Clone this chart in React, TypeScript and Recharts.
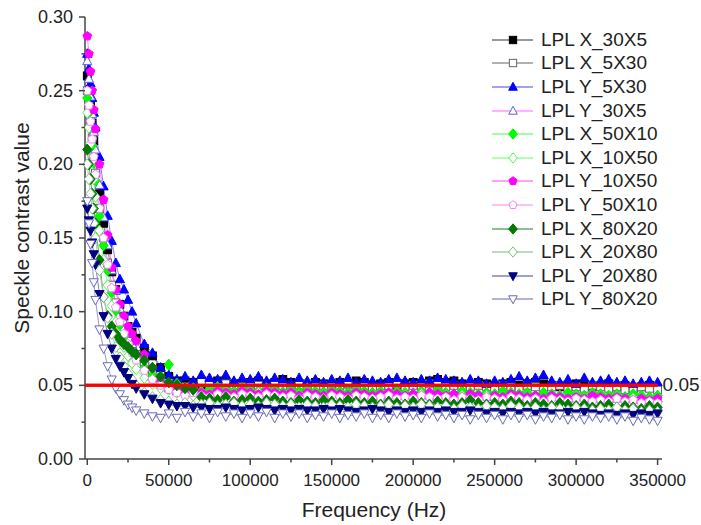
import React from 'react'
import { LineChart, Line, XAxis, YAxis, ReferenceLine, Label } from 'recharts'

// frequency (Hz) of every sample
const frequencies = [
  0, 1000, 2000, 3000, 4000, 5000, 7500, 10000, 12500, 15000, 17500, 20000, 22500, 25000, 27500, 30000, 35000, 40000, 45000,
  50000, 55000, 60000, 65000, 70000, 75000, 80000, 85000, 90000, 95000,
  100000, 105000, 110000, 115000, 120000, 125000, 130000, 135000, 140000, 145000,
  150000, 155000, 160000, 165000, 170000, 175000, 180000, 185000, 190000, 195000,
  200000, 205000, 210000, 215000, 220000, 225000, 230000, 235000, 240000, 245000,
  250000, 255000, 260000, 265000, 270000, 275000, 280000, 285000, 290000, 295000,
  300000, 305000, 310000, 315000, 320000, 325000, 330000, 335000, 340000, 345000, 350000,
]

const lplX_30x5 = [
  0.26, 0.25, 0.24, 0.228, 0.216, 0.204, 0.18, 0.16, 0.142, 0.127, 0.115, 0.105, 0.097, 0.09, 0.086, 0.082, 0.075, 0.07, 0.062,
  0.056, 0.053, 0.053, 0.052, 0.050, 0.051, 0.053, 0.052, 0.051, 0.050,
  0.052, 0.053, 0.051, 0.052, 0.054, 0.052, 0.051, 0.050, 0.052, 0.051,
  0.050, 0.052, 0.051, 0.053, 0.052, 0.050, 0.051, 0.052, 0.050, 0.051,
  0.052, 0.051, 0.053, 0.054, 0.052, 0.053, 0.051, 0.050, 0.052, 0.051,
  0.050, 0.051, 0.052, 0.050, 0.051, 0.052, 0.051, 0.050, 0.049, 0.050,
  0.051, 0.050, 0.049, 0.050, 0.051, 0.049, 0.050, 0.048, 0.049, 0.050, 0.048,
]
const lplX_5x30 = [
  0.25, 0.24, 0.23, 0.218, 0.206, 0.194, 0.17, 0.15, 0.133, 0.118, 0.106, 0.096, 0.088, 0.081, 0.076, 0.071, 0.064, 0.058, 0.054,
  0.052, 0.051, 0.049, 0.050, 0.052, 0.050, 0.049, 0.051, 0.050, 0.049,
  0.051, 0.050, 0.049, 0.051, 0.050, 0.048, 0.050, 0.051, 0.049, 0.050,
  0.049, 0.050, 0.051, 0.049, 0.050, 0.048, 0.049, 0.050, 0.051, 0.049,
  0.050, 0.049, 0.051, 0.050, 0.049, 0.050, 0.048, 0.049, 0.050, 0.049,
  0.048, 0.050, 0.049, 0.048, 0.050, 0.049, 0.048, 0.049, 0.050, 0.048,
  0.049, 0.048, 0.050, 0.049, 0.048, 0.049, 0.047, 0.048, 0.049, 0.048, 0.047,
]
const lplY_5x30 = [
  0.275, 0.265, 0.255, 0.245, 0.235, 0.225, 0.205, 0.185, 0.165, 0.148, 0.133, 0.122, 0.115, 0.108, 0.1, 0.092, 0.078, 0.072, 0.062,
  0.057, 0.054, 0.056, 0.053, 0.057, 0.055, 0.054, 0.057, 0.053, 0.055,
  0.054, 0.056, 0.053, 0.055, 0.054, 0.052, 0.055, 0.053, 0.054, 0.052,
  0.054, 0.053, 0.055, 0.052, 0.054, 0.053, 0.052, 0.054, 0.055, 0.053,
  0.052, 0.054, 0.053, 0.055, 0.054, 0.053, 0.052, 0.054, 0.053, 0.051,
  0.053, 0.052, 0.054, 0.056, 0.053, 0.055, 0.057, 0.053, 0.052, 0.054,
  0.051, 0.055, 0.052, 0.053, 0.054, 0.052, 0.053, 0.051, 0.052, 0.053, 0.052,
]
const lplY_30x5 = [
  0.27, 0.258, 0.246, 0.234, 0.222, 0.21, 0.186, 0.164, 0.145, 0.128, 0.114, 0.102, 0.093, 0.085, 0.078, 0.072, 0.063, 0.056, 0.051,
  0.048, 0.046, 0.048, 0.046, 0.045, 0.047, 0.046, 0.045, 0.047, 0.046,
  0.045, 0.047, 0.046, 0.045, 0.046, 0.044, 0.046, 0.045, 0.044, 0.046,
  0.045, 0.044, 0.046, 0.045, 0.044, 0.045, 0.043, 0.045, 0.044, 0.043,
  0.045, 0.044, 0.043, 0.045, 0.044, 0.043, 0.044, 0.042, 0.044, 0.043,
  0.042, 0.044, 0.043, 0.042, 0.043, 0.042, 0.044, 0.042, 0.043, 0.041,
  0.043, 0.042, 0.041, 0.043, 0.042, 0.041, 0.042, 0.041, 0.040, 0.042, 0.041,
]
const lplX_50x10 = [
  0.245, 0.235, 0.225, 0.213, 0.201, 0.189, 0.165, 0.145, 0.128, 0.113, 0.101, 0.091, 0.083, 0.077, 0.072, 0.068, 0.062, 0.057, 0.054,
  0.064, 0.051, 0.048, 0.048, 0.046, 0.047, 0.049, 0.047, 0.046, 0.048,
  0.047, 0.046, 0.048, 0.047, 0.045, 0.047, 0.046, 0.048, 0.046, 0.045,
  0.047, 0.046, 0.045, 0.047, 0.046, 0.045, 0.046, 0.044, 0.046, 0.045,
  0.044, 0.046, 0.045, 0.047, 0.045, 0.044, 0.046, 0.045, 0.044, 0.045,
  0.044, 0.046, 0.045, 0.044, 0.045, 0.043, 0.045, 0.044, 0.043, 0.045,
  0.044, 0.043, 0.045, 0.044, 0.043, 0.044, 0.042, 0.044, 0.043, 0.042, 0.043,
]
const lplX_10x50 = [
  0.235, 0.225, 0.214, 0.202, 0.19, 0.178, 0.155, 0.135, 0.118, 0.104, 0.093, 0.084, 0.076, 0.07, 0.065, 0.061, 0.055, 0.051, 0.048,
  0.047, 0.045, 0.045, 0.043, 0.045, 0.044, 0.043, 0.045, 0.044, 0.043,
  0.044, 0.045, 0.043, 0.044, 0.042, 0.044, 0.043, 0.045, 0.043, 0.042,
  0.044, 0.043, 0.042, 0.044, 0.043, 0.042, 0.043, 0.044, 0.042, 0.043,
  0.042, 0.044, 0.043, 0.042, 0.043, 0.041, 0.043, 0.042, 0.041, 0.043,
  0.042, 0.041, 0.043, 0.042, 0.041, 0.042, 0.040, 0.042, 0.041, 0.040,
  0.042, 0.041, 0.040, 0.041, 0.040, 0.042, 0.040, 0.041, 0.039, 0.040, 0.039,
]
const lplY_10x50 = [
  0.287, 0.275, 0.263, 0.25, 0.237, 0.224, 0.2, 0.176, 0.152, 0.13, 0.115, 0.105, 0.097, 0.09, 0.085, 0.08, 0.071, 0.062, 0.055,
  0.050, 0.047, 0.046, 0.047, 0.045, 0.044, 0.046, 0.045, 0.044, 0.046,
  0.045, 0.044, 0.046, 0.045, 0.044, 0.045, 0.043, 0.045, 0.044, 0.043,
  0.045, 0.044, 0.043, 0.045, 0.044, 0.043, 0.044, 0.045, 0.044, 0.043,
  0.044, 0.043, 0.045, 0.044, 0.043, 0.044, 0.042, 0.044, 0.043, 0.042,
  0.043, 0.042, 0.044, 0.043, 0.042, 0.043, 0.041, 0.043, 0.042, 0.041,
  0.042, 0.041, 0.043, 0.042, 0.041, 0.042, 0.041, 0.040, 0.041, 0.040, 0.041,
]
const lplY_50x10 = [
  0.25, 0.24, 0.229, 0.217, 0.205, 0.193, 0.17, 0.15, 0.132, 0.116, 0.103, 0.093, 0.085, 0.078, 0.072, 0.067, 0.06, 0.054, 0.05,
  0.047, 0.045, 0.043, 0.045, 0.043, 0.042, 0.044, 0.043, 0.042, 0.044,
  0.043, 0.042, 0.044, 0.043, 0.042, 0.043, 0.041, 0.043, 0.042, 0.041,
  0.043, 0.042, 0.041, 0.043, 0.042, 0.041, 0.042, 0.043, 0.041, 0.042,
  0.041, 0.043, 0.042, 0.041, 0.042, 0.040, 0.042, 0.041, 0.040, 0.042,
  0.041, 0.040, 0.042, 0.041, 0.040, 0.041, 0.039, 0.041, 0.040, 0.039,
  0.041, 0.040, 0.039, 0.040, 0.039, 0.041, 0.039, 0.040, 0.038, 0.039, 0.038,
]
const lplX_80x20 = [
  0.21, 0.2, 0.19, 0.18, 0.17, 0.16, 0.135, 0.11, 0.097, 0.09, 0.085, 0.081, 0.078, 0.076, 0.073, 0.071, 0.067, 0.062, 0.056,
  0.052, 0.050, 0.048, 0.047, 0.042, 0.041, 0.040, 0.042, 0.039, 0.040,
  0.041, 0.039, 0.040, 0.041, 0.039, 0.038, 0.040, 0.039, 0.038, 0.040,
  0.039, 0.038, 0.040, 0.039, 0.038, 0.039, 0.037, 0.039, 0.038, 0.037,
  0.039, 0.038, 0.037, 0.039, 0.038, 0.037, 0.038, 0.040, 0.038, 0.037,
  0.038, 0.037, 0.039, 0.038, 0.036, 0.038, 0.037, 0.036, 0.038, 0.037,
  0.036, 0.037, 0.035, 0.036, 0.037, 0.035, 0.036, 0.035, 0.034, 0.036, 0.035,
]
const lplX_20x80 = [
  0.2, 0.19, 0.18, 0.17, 0.16, 0.15, 0.128, 0.11, 0.096, 0.085, 0.076, 0.069, 0.063, 0.058, 0.054, 0.05, 0.045, 0.042, 0.04,
  0.039, 0.037, 0.038, 0.036, 0.037, 0.038, 0.036, 0.037, 0.038, 0.036,
  0.037, 0.036, 0.038, 0.037, 0.036, 0.037, 0.035, 0.037, 0.036, 0.035,
  0.037, 0.036, 0.035, 0.037, 0.036, 0.035, 0.036, 0.037, 0.035, 0.036,
  0.035, 0.037, 0.036, 0.035, 0.036, 0.034, 0.036, 0.035, 0.034, 0.036,
  0.035, 0.034, 0.036, 0.035, 0.034, 0.035, 0.033, 0.035, 0.034, 0.033,
  0.035, 0.034, 0.033, 0.034, 0.033, 0.035, 0.033, 0.034, 0.032, 0.033, 0.032,
]
const lplY_20x80 = [
  0.17, 0.162, 0.155, 0.147, 0.139, 0.132, 0.112, 0.097, 0.085, 0.075, 0.068, 0.063, 0.059, 0.055, 0.051, 0.048, 0.044, 0.041, 0.038,
  0.037, 0.036, 0.036, 0.035, 0.035, 0.034, 0.034, 0.035, 0.034, 0.033,
  0.034, 0.035, 0.034, 0.033, 0.034, 0.033, 0.034, 0.033, 0.033, 0.034,
  0.033, 0.034, 0.033, 0.032, 0.033, 0.034, 0.033, 0.032, 0.033, 0.032,
  0.033, 0.032, 0.033, 0.032, 0.033, 0.032, 0.032, 0.033, 0.032, 0.031,
  0.032, 0.031, 0.032, 0.031, 0.032, 0.031, 0.032, 0.031, 0.031, 0.032,
  0.031, 0.032, 0.031, 0.030, 0.031, 0.030, 0.031, 0.030, 0.031, 0.030, 0.031,
]
const lplY_80x20 = [
  0.175, 0.16, 0.146, 0.133, 0.12, 0.108, 0.088, 0.075, 0.063, 0.054, 0.048, 0.044, 0.04, 0.037, 0.035, 0.033, 0.031, 0.029, 0.028,
  0.031, 0.028, 0.032, 0.029, 0.031, 0.028, 0.032, 0.029, 0.031, 0.028,
  0.031, 0.029, 0.032, 0.028, 0.031, 0.029, 0.031, 0.028, 0.030, 0.029,
  0.031, 0.028, 0.030, 0.029, 0.031, 0.028, 0.030, 0.028, 0.031, 0.029,
  0.030, 0.028, 0.031, 0.029, 0.030, 0.028, 0.030, 0.027, 0.030, 0.028,
  0.030, 0.027, 0.030, 0.028, 0.030, 0.027, 0.029, 0.028, 0.030, 0.027,
  0.029, 0.027, 0.029, 0.028, 0.029, 0.027, 0.029, 0.026, 0.028, 0.027, 0.026,
]

const xTicks = [0, 25000, 50000, 75000, 100000, 125000, 150000, 175000, 200000, 225000, 250000, 275000, 300000, 325000, 350000]
const yTicks = [0, 0.025, 0.05, 0.075, 0.1, 0.125, 0.15, 0.175, 0.2, 0.225, 0.25, 0.275, 0.3]
const xDomain = [-1400, 352700]
const threshold = 0.05
const thresholdLabel = '0.05'

const series = [
  { key: 's1', name: 'LPL X_30X5', values: lplX_30x5, shape: 'square', fill: '#000000', stroke: '#000000', line: '#777777' },
  { key: 's2', name: 'LPL X_5X30', values: lplX_5x30, shape: 'square', fill: '#ffffff', stroke: '#666666', line: '#999999' },
  { key: 's3', name: 'LPL Y_5X30', values: lplY_5x30, shape: 'triUp', fill: '#0000ff', stroke: '#0000ff', line: '#8080ff' },
  { key: 's4', name: 'LPL Y_30X5', values: lplY_30x5, shape: 'triUp', fill: '#ffffff', stroke: '#5c5cf0', line: '#ff99ff' },
  { key: 's5', name: 'LPL X_50X10', values: lplX_50x10, shape: 'diamond', fill: '#00ff00', stroke: '#00ee00', line: '#80ff80' },
  { key: 's6', name: 'LPL X_10X50', values: lplX_10x50, shape: 'diamond', fill: '#ffffff', stroke: '#55ee55', line: '#99ff99' },
  { key: 's7', name: 'LPL Y_10X50', values: lplY_10x50, shape: 'pentagon', fill: '#ff00ff', stroke: '#ff00ff', line: '#ff80ff' },
  { key: 's8', name: 'LPL Y_50X10', values: lplY_50x10, shape: 'pentagon', fill: '#ffffff', stroke: '#ff80ff', line: '#ffaaff' },
  { key: 's9', name: 'LPL X_80X20', values: lplX_80x20, shape: 'diamond', fill: '#007a00', stroke: '#007a00', line: '#66aa66' },
  { key: 's10', name: 'LPL X_20X80', values: lplX_20x80, shape: 'diamond', fill: '#ffffff', stroke: '#80c080', line: '#aaccaa' },
  { key: 's11', name: 'LPL Y_20X80', values: lplY_20x80, shape: 'triDown', fill: '#000080', stroke: '#000080', line: '#8080c0' },
  { key: 's12', name: 'LPL Y_80X20', values: lplY_80x20, shape: 'triDown', fill: '#ffffff', stroke: '#6a6ab8', line: '#9999cc' },
]

const data = frequencies.map((f, i) => {
  const row: any = { f }
  series.forEach((s) => {
    row[s.key] = s.values[i]
  })
  return row
})

const FONT = '"Liberation Sans", Arial, sans-serif'
const AXIS = '#444'

function Marker({ shape, x, y, r, fill, stroke }: any) {
  const common = { fill, stroke, strokeWidth: 1 }
  if (shape === 'square') {
    return <rect x={x - r * 0.85} y={y - r * 0.85} width={r * 1.7} height={r * 1.7} {...common} />
  }
  if (shape === 'triUp') {
    return <path d={`M${x},${y - r * 1.1}L${x + r},${y + r * 0.75}L${x - r},${y + r * 0.75}Z`} {...common} />
  }
  if (shape === 'triDown') {
    return <path d={`M${x},${y + r * 1.1}L${x + r},${y - r * 0.75}L${x - r},${y - r * 0.75}Z`} {...common} />
  }
  if (shape === 'diamond') {
    return <path d={`M${x},${y - r * 1.2}L${x + r},${y}L${x},${y + r * 1.2}L${x - r},${y}Z`} {...common} />
  }
  const pts = [0, 1, 2, 3, 4]
    .map((k) => {
      const a = ((-90 + 72 * k) * Math.PI) / 180
      return `${x + r * Math.cos(a)},${y + r * Math.sin(a)}`
    })
    .join(' ')
  return <polygon points={pts} {...common} />
}

const makeDot = (s: any) => (props: any) => {
  const { cx, cy, index } = props
  if (cx == null || cy == null) return <g key={`${s.key}-${index}`} />
  return <Marker key={`${s.key}-${index}`} shape={s.shape} x={cx} y={cy} r={4.6} fill={s.fill} stroke={s.stroke} />
}

const XTick = ({ x, y, payload }: any) => {
  const major = payload.value % 50000 === 0
  return (
    <g>
      <line x1={x} x2={x} y1={y} y2={y + (major ? 6 : 3.5)} stroke={AXIS} strokeWidth={1.5} />
      {major && (
        <text x={x} y={y + 27} textAnchor="middle" fontSize={17} fill="#222" fontFamily={FONT}>
          {payload.value}
        </text>
      )}
    </g>
  )
}

const YTick = ({ x, y, payload }: any) => {
  const major = Math.round(payload.value * 1000) % 50 === 0
  return (
    <g>
      <line x1={x} x2={x - (major ? 6 : 3.5)} y1={y} y2={y} stroke={AXIS} strokeWidth={1.5} />
      {major && (
        <text x={x - 12} y={y + 6} textAnchor="end" fontSize={18} fill="#222" fontFamily={FONT}>
          {payload.value.toFixed(2)}
        </text>
      )}
    </g>
  )
}

// the red limit is painted from the label layer, which lies above the markers
const ThresholdLabel = ({ viewBox }: any) => {
  if (!viewBox) return null
  const { x, y, width } = viewBox
  return (
    <g>
      <line x1={x} x2={x + width} y1={y} y2={y} stroke="#ff0000" strokeWidth={3} />
      <text x={x + width + 5} y={y + 6} fontSize={19} fill="#222" fontFamily={FONT}>
        {thresholdLabel}
      </text>
    </g>
  )
}

function LegendBox() {
  return (
    <div style={{ position: 'absolute', left: 492, top: 28, fontFamily: FONT }}>
      {series.map((s) => (
        <div key={s.key} style={{ height: 23.6, display: 'flex', alignItems: 'center' }}>
          <svg width={44} height={20} style={{ display: 'block' }}>
            <line x1={0} x2={41} y1={10} y2={10} stroke={s.line} strokeWidth={1.5} />
            <Marker shape={s.shape} x={21} y={10} r={4.3} fill={s.fill} stroke={s.stroke} />
          </svg>
          <span style={{ fontSize: 19, color: '#222', marginLeft: 5, whiteSpace: 'nowrap' }}>{s.name}</span>
        </div>
      ))}
    </div>
  )
}

export default function App() {
  return (
    <div style={{ position: 'absolute', left: 0, top: 0, width: 701, height: 525, background: '#fff' }}>
      <LineChart width={701} height={525} data={data} margin={{ top: 17, right: 39, bottom: 0, left: 0 }}>
        <XAxis
          dataKey="f"
          type="number"
          domain={xDomain}
          ticks={xTicks}
          interval={0}
          height={66}
          tickSize={0}
          tickMargin={0}
          tickLine={false}
          tick={<XTick />}
          axisLine={{ stroke: AXIS, strokeWidth: 1.5 }}
          label={{
            content: () => (
              <text x={374} y={517} textAnchor="middle" fontSize={21} fill="#222" fontFamily={FONT}>
                Frequency (Hz)
              </text>
            ),
          }}
        />
        <YAxis
          type="number"
          domain={[0, 0.3]}
          ticks={yTicks}
          interval={0}
          width={85}
          tickSize={0}
          tickMargin={0}
          tickLine={false}
          tick={<YTick />}
          axisLine={{ stroke: AXIS, strokeWidth: 1.5 }}
          label={{
            content: () => (
              <text x={29} y={228} textAnchor="middle" fontSize={21} fill="#222" fontFamily={FONT} transform="rotate(-90 29 228)">
                Speckle contrast value
              </text>
            ),
          }}
        />
        {series.map((s) => (
          <Line
            key={s.key}
            type="linear"
            dataKey={s.key}
            name={s.name}
            stroke={s.line}
            strokeWidth={1}
            dot={makeDot(s)}
            activeDot={false}
            isAnimationActive={false}
          />
        ))}
        <ReferenceLine
          segment={[
            { x: xDomain[0], y: threshold },
            { x: xTicks[xTicks.length - 1], y: threshold },
          ]}
          stroke="#ff0000"
          strokeWidth={3}
          zIndex={2000}
        >
          <Label content={<ThresholdLabel />} />
        </ReferenceLine>
      </LineChart>
      <LegendBox />
    </div>
  )
}
